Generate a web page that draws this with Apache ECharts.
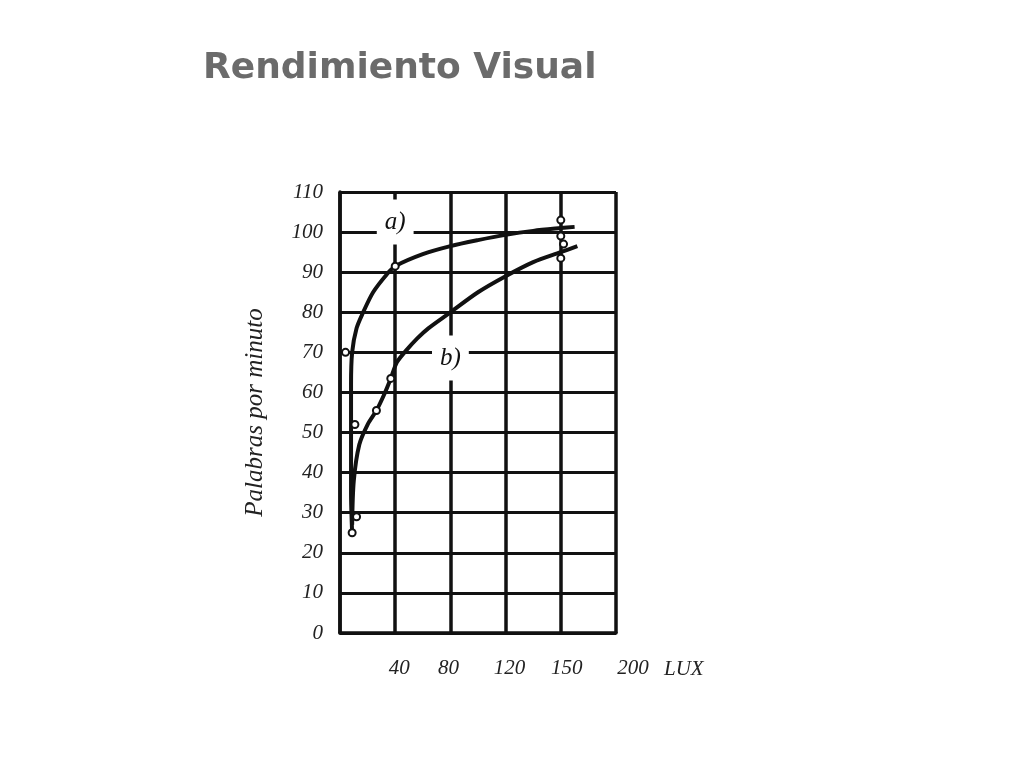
<!DOCTYPE html>
<html lang="es">
<head>
    <meta charset="UTF-8">
    <style>
        html, body { margin: 0; padding: 0; background: #fff; }
        #main { width: 1024px; height: 768px; }
    </style>
    <script src="https://cdn.jsdelivr.net/npm/echarts@6/dist/echarts.min.js"></script>
    <title>Rendimiento Visual</title>
</head>
<body>
    <div id="main"></div>
    <script>
        // x values are grid columns (0..5), labelled with the lux values below
        var xTickLabels = ['', '40', '80', '120', '150', '200'];
        var yTicks = [0, 10, 20, 30, 40, 50, 60, 70, 80, 90, 100, 110];

        // curve a)
        var curveA = [
            [0.22, 25], [0.2, 35], [0.2, 45], [0.2, 55], [0.2, 62], [0.22, 70],
            [0.3, 76], [0.42, 80], [0.6, 85], [0.85, 89.5], [1.0, 91.5],
            [1.5, 94.5], [2, 96.5], [2.5, 98], [3, 99.3], [3.5, 100.3],
            [4, 101], [4.25, 101.3]
        ];
        // curve b)
        var curveB = [
            [0.22, 27], [0.25, 38], [0.35, 47], [0.5, 52], [0.66, 55.5],
            [0.8, 59.5], [0.92, 63.5], [1.03, 67.5], [1.2, 70.5], [1.4, 73.5],
            [1.6, 76], [2, 80], [2.5, 85], [3, 89], [3.5, 92.5],
            [4, 95], [4.3, 96.5]
        ];
        // measured points (small circles)
        var pointsA = [[0.1, 70], [0.27, 52], [1.0, 91.5], [4.0, 103], [4.0, 99]];
        var pointsB = [[0.22, 25], [0.3, 29], [0.66, 55.5], [0.92, 63.5], [4.0, 93.5], [4.05, 97]];
        // curve names
        var curveLabels = [[1.0, 102.5, 'a)'], [2.0, 68.6, 'b)']];

        var serif = '"Liberation Serif", "DejaVu Serif", serif';
        var ink = '#111';

        var myChart = echarts.init(document.getElementById('main'));
        var option = {
            animation: false,
            title: {
                text: 'Rendimiento Visual',
                left: 198,
                top: 46,
                textStyle: {
                    fontFamily: '"DejaVu Sans", sans-serif',
                    fontSize: 36,
                    fontWeight: 'bold',
                    color: '#6b6b6b'
                }
            },
            grid: { left: 340, right: 408, top: 192, bottom: 135 },
            xAxis: {
                type: 'value',
                min: 0,
                max: 5,
                interval: 1,
                name: 'LUX',
                nameLocation: 'end',
                nameGap: 48,
                nameTextStyle: {
                    fontFamily: serif, fontStyle: 'italic', fontSize: 21, color: '#222',
                    verticalAlign: 'top', padding: [26, 0, 0, 0]
                },
                axisLine: { show: true, lineStyle: { color: ink, width: 3.5 } },
                axisTick: { show: false },
                splitLine: { show: true, lineStyle: { color: ink, width: 3.5 } },
                axisLabel: {
                    margin: 25,
                    fontFamily: serif, fontStyle: 'italic', fontSize: 21, color: '#222',
                    formatter: function (v) {
                        var t = xTickLabels[Math.round(v)];
                        return t ? '{c' + Math.round(v) + '|' + t + '}' : '';
                    },
                    rich: {
                        c1: { padding: [0, 0, 0, 8] },
                        c2: { padding: [0, 4, 0, 0] },
                        c3: { padding: [0, 0, 0, 8] },
                        c4: { padding: [0, 0, 0, 12] },
                        c5: { padding: [0, 0, 0, 34] }
                    }
                }
            },
            yAxis: {
                type: 'value',
                min: yTicks[0],
                max: yTicks[yTicks.length - 1],
                interval: 10,
                name: 'Palabras por minuto',
                nameLocation: 'middle',
                nameGap: 72,
                nameTextStyle: {
                    fontFamily: serif, fontStyle: 'italic', fontSize: 25, color: '#222'
                },
                axisLine: { show: true, lineStyle: { color: ink, width: 3.5 } },
                axisTick: { show: false },
                splitLine: { show: true, lineStyle: { color: ink, width: 3 } },
                axisLabel: {
                    margin: 17,
                    fontFamily: serif, fontStyle: 'italic', fontSize: 21, color: '#222'
                }
            },
            series: [{
                name: 'a',
                type: 'line',
                smooth: 0.3,
                symbol: 'none',
                lineStyle: { color: ink, width: 4 },
                data: curveA,
                z: 3
            }, {
                name: 'b',
                type: 'line',
                smooth: 0.3,
                symbol: 'none',
                lineStyle: { color: ink, width: 4 },
                data: curveB,
                z: 3
            }, {
                name: 'puntos',
                type: 'scatter',
                symbol: 'circle',
                symbolSize: 7,
                itemStyle: { color: '#fff', borderColor: ink, borderWidth: 2, opacity: 1 },
                data: pointsA.concat(pointsB),
                z: 4
            }, {
                name: 'rotulos',
                type: 'scatter',
                symbolSize: 0,
                itemStyle: { opacity: 1 },
                data: curveLabels,
                z: 5,
                label: {
                    show: true,
                    position: 'inside',
                    formatter: function (p) { return p.data[2]; },
                    fontFamily: serif,
                    fontStyle: 'italic',
                    fontSize: 25,
                    color: '#111',
                    backgroundColor: '#fff',
                    padding: [10, 8, 10, 8]
                }
            }]
        };
        myChart.setOption(option);
    </script>
</body>
</html>
